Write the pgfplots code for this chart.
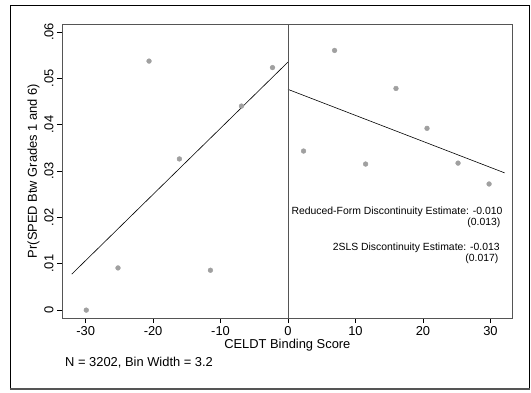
\documentclass[border=0pt]{standalone}
\usepackage{fontspec}
\setmainfont{Liberation Sans}
\usepackage{pgfplots}
\pgfplotsset{compat=1.18}
\definecolor{dotgray}{RGB}{160,160,160}
\definecolor{boxgray}{RGB}{85,85,85}
\begin{document}
\begin{tikzpicture}[font=\fontsize{12.9}{15}\selectfont]
\useasboundingbox (-62pt,-74pt) rectangle (469pt,318pt);
\draw[black, line width=0.9pt] (-51.5pt,-71pt) rectangle (467pt,313pt);
\draw[boxgray, line width=2.2pt] (-52pt,-71pt) -- (467.5pt,-71pt);
\begin{axis}[at={(0pt,0pt)}, anchor=south west, scale only axis,
  width=450.7pt, height=294pt,
  xmin=-33.5, xmax=33.3, ymin=-0.0017, ymax=0.0617,
  xtick={-30,-20,-10,0,10,20,30},
  ytick={0,0.01,0.02,0.03,0.04,0.05,0.06},
  tick pos=left, tick align=outside, major tick length=5pt,
  tick style={black, line width=0.6pt},
  axis line style={boxgray, line width=0.9pt},
  /pgf/number format/assume math mode=true,
  scaled y ticks=false,
  yticklabel style={rotate=90, anchor=south, /pgf/number format/fixed, /pgf/number format/precision=2, /pgf/number format/skip 0.},
  xlabel={CELDT Binding Score},
  ylabel={Pr(SPED Btw Grades 1 and 6)},
  xlabel style={yshift=3pt},
  ylabel style={yshift=-2pt},
  clip=false,
]
\addplot[only marks, mark=*, mark size=2.4pt, dotgray] coordinates {
(-29.9,0.0000) (-25.2,0.0091) (-20.6,0.0537) (-16.1,0.0326) (-11.5,0.0086) (-6.9,0.0440) (-2.3,0.0523)
(2.3,0.0343) (6.9,0.0560) (11.5,0.0315) (16.0,0.0478) (20.6,0.0392) (25.2,0.0317) (29.8,0.0272)
};
\addplot[black, line width=0.6pt] coordinates {(-32.05,0.00776) (0,0.0535)};
\addplot[black, line width=0.6pt] coordinates {(0,0.0476) (32.1,0.0296)};
\addplot[boxgray, line width=0.9pt] coordinates {(0,-0.0017) (0,0.0617)};
\node[anchor=east, inner sep=0pt, font=\fontsize{10.4}{12}\selectfont] at (axis cs:31.8,0.02112) {Reduced-Form Discontinuity Estimate: -0.010};
\node[anchor=east, inner sep=0pt, font=\fontsize{10.4}{12}\selectfont] at (axis cs:31.5,0.01875) {(0.013)};
\node[anchor=east, inner sep=0pt, font=\fontsize{10.4}{12}\selectfont] at (axis cs:31.4,0.01336) {2SLS Discontinuity Estimate: -0.013};
\node[anchor=east, inner sep=0pt, font=\fontsize{10.4}{12}\selectfont] at (axis cs:31.2,0.0110) {(0.017)};
\end{axis}
\node[anchor=west, inner sep=0pt] at (3pt,-45pt) {N = 3202, Bin Width = 3.2};
\end{tikzpicture}
\end{document}
